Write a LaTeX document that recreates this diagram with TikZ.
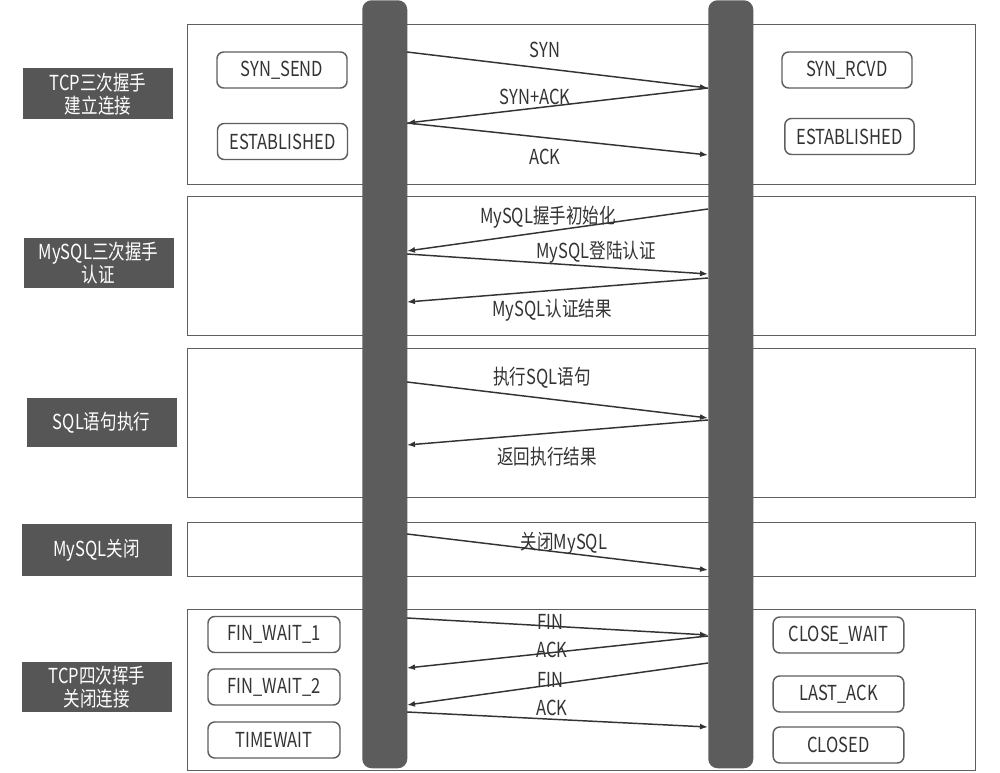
\documentclass[tikz,border=0pt]{standalone}
\usepackage{fontspec}
\setmainfont{Noto Sans CJK SC}[FakeStretch=0.8]
\usetikzlibrary{arrows.meta}
\definecolor{bar}{HTML}{5C5C5C}
\definecolor{tagfill}{HTML}{565656}
\definecolor{edge}{HTML}{5F5F5F}
\definecolor{ink}{HTML}{333333}
\begin{document}
\begin{tikzpicture}[x=0.75pt,y=-0.75pt,
  section/.style={draw=edge, line width=1.1pt, fill=white, anchor=north west, minimum width=591pt, inner sep=0pt},
  lifeline/.style={fill=bar, rounded corners=7pt, anchor=north west, minimum width=33.75pt, minimum height=576pt, inner sep=0pt},
  statebox/.style={draw=edge, line width=1.1pt, rounded corners=5pt, minimum height=27pt, inner sep=0pt, font=\fontsize{15.5}{17}\selectfont, text=ink},
  tag/.style={fill=tagfill, text=white, align=center, minimum width=112.5pt, inner sep=0pt, font=\fontsize{15.5}{17.5}\selectfont},
  msg/.style={-{Latex[length=6pt,width=4.5pt]}, line width=1.1pt, draw=ink},
  msglabel/.style={font=\fontsize{15.5}{17}\selectfont, text=ink, inner sep=0pt}
]
\useasboundingbox (0,0) rectangle (1000,773);

% sections
\node[section, minimum height=120pt]    (sec1) at (187,24)  {};
\node[section, minimum height=104.25pt] (sec2) at (187,196) {};
\node[section, minimum height=111.75pt] (sec3) at (187,348) {};
\node[section, minimum height=40.5pt]   (sec4) at (187,522) {};
\node[section, minimum height=120.75pt] (sec5) at (187,609) {};

% tags
\node[tag, minimum height=38.25pt] (tag1) at (98,94)    {TCP三次握手\\建立连接};
\node[tag, minimum height=37.5pt]  (tag2) at (98.5,263) {MySQL三次握手\\认证};
\node[tag, minimum height=36.75pt] (tag3) at (101.5,422.5) {SQL语句执行};
\node[tag, minimum height=39pt]    (tag4) at (96.5,550) {MySQL关闭};
\node[tag, minimum height=37.5pt]  (tag5) at (97,687)   {TCP四次挥手\\关闭连接};

% lifelines
\node[lifeline] (L) at (362,0) {};
\node[lifeline] (R) at (708,0) {};

% state boxes
\node[statebox, minimum width=97.5pt] (s1) at (282,70)    {SYN\_SEND};
\node[statebox, minimum width=97.5pt] (s2) at (282.5,141.5) {ESTABLISHED};
\node[statebox, minimum width=97.5pt] (s3) at (847,70)    {SYN\_RCVD};
\node[statebox, minimum width=97pt]   (s4) at (849.5,136.5) {ESTABLISHED};
\node[statebox, minimum width=99pt]   (s5) at (274,634.5) {FIN\_WAIT\_1};
\node[statebox, minimum width=99pt]   (s6) at (274,687)   {FIN\_WAIT\_2};
\node[statebox, minimum width=99pt]   (s7) at (274,740)   {TIMEWAIT};
\node[statebox, minimum width=98pt]   (s8) at (838.5,635) {CLOSE\_WAIT};
\node[statebox, minimum width=98pt]   (s9) at (838.5,694) {LAST\_ACK};
\node[statebox, minimum width=98pt]   (s10) at (838.5,745) {CLOSED};

% anchor points on the lifelines
\coordinate (a1) at (407,52);  \coordinate (b1) at (708,88);
\coordinate (a2) at (407,123); \coordinate (b2) at (708,155);
\coordinate (b3) at (708,209); \coordinate (a3) at (407,251);
\coordinate (a4) at (407,254); \coordinate (b4) at (708,274);
\coordinate (b5) at (708,278); \coordinate (a5) at (407,302);
\coordinate (a6) at (407,382); \coordinate (b6) at (708,418);
\coordinate (b7) at (708,420); \coordinate (a7) at (407,445);
\coordinate (a8) at (407,534); \coordinate (b8) at (708,570);
\coordinate (a9) at (407,618); \coordinate (b9) at (708,635);
\coordinate (b10) at (708,636); \coordinate (a10) at (407,668);
\coordinate (b11) at (708,663); \coordinate (a11) at (407,705);
\coordinate (a12) at (407,712); \coordinate (b12) at (708,727);

% messages
\draw[msg] (a1) -- (b1);
\draw[msg] (b1) -- (a2);
\draw[msg] (a2) -- (b2);
\draw[msg] (b3) -- (a3);
\draw[msg] (a4) -- (b4);
\draw[msg] (b5) -- (a5);
\draw[msg] (a6) -- (b6);
\draw[msg] (b7) -- (a7);
\draw[msg] (a8) -- (b8);
\draw[msg] (a9) -- (b9);
\draw[msg] (b10) -- (a10);
\draw[msg] (b11) -- (a11);
\draw[msg] (a12) -- (b12);

% message labels
\node[msglabel] (m1) at (545,50)  {SYN};
\node[msglabel] (m2) at (535,97)  {SYN+ACK};
\node[msglabel] (m3) at (545,157) {ACK};
\node[msglabel] (m4) at (548,217) {MySQL握手初始化};
\node[msglabel] (m5) at (596,252) {MySQL登陆认证};
\node[msglabel] (m6) at (552,310) {MySQL认证结果};
\node[msglabel] (m7) at (542,378) {执行SQL语句};
\node[msglabel] (m8) at (547,457) {返回执行结果};
\node[msglabel] (m9) at (564,543) {关闭MySQL};
\node[msglabel] (m10) at (550,622) {FIN};
\node[msglabel] (m11) at (552,650) {ACK};
\node[msglabel] (m12) at (550,680) {FIN};
\node[msglabel] (m13) at (552,708) {ACK};
\end{tikzpicture}
\end{document}
